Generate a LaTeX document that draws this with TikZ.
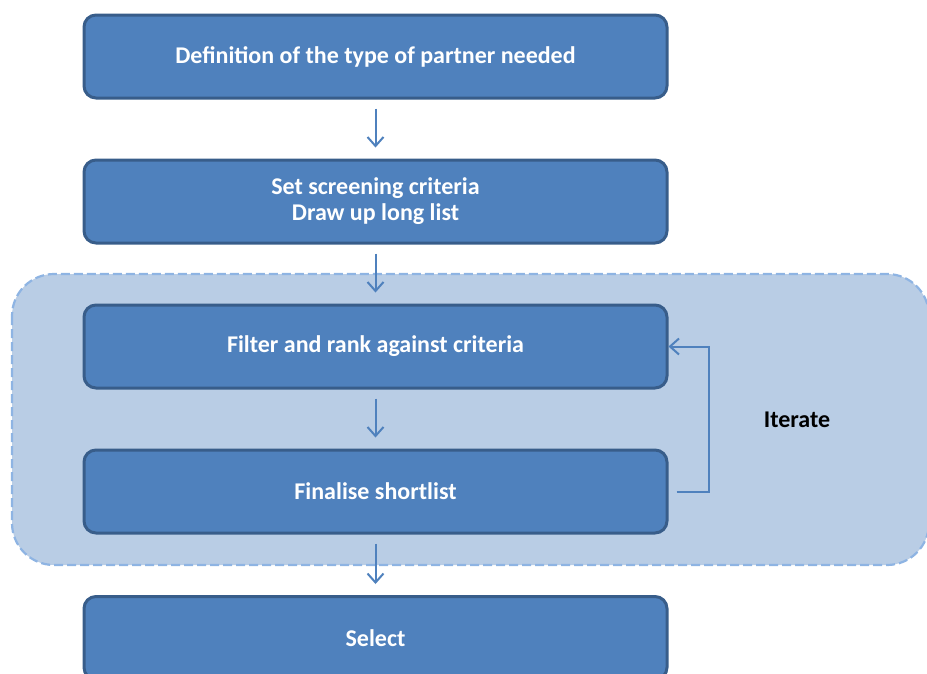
\documentclass[tikz,border=0pt]{standalone}
\usepackage{fontspec}
\setmainfont{Carlito}
\usetikzlibrary{arrows.meta}
\definecolor{boxfill}{HTML}{4F81BD}
\definecolor{boxline}{HTML}{385D8A}
\definecolor{regfill}{HTML}{B9CDE5}
\definecolor{regline}{HTML}{8EB4E3}
\tikzset{
  stepbox/.style={draw=boxline, line width=3pt, fill=boxfill, rounded corners=12pt,
    minimum width=583pt, minimum height=83pt, text=white, font=\fontsize{24}{26}\selectfont\bfseries,
    align=center, inner sep=0pt},
  arr/.style={draw=boxfill, line width=2pt, -{Straight Barb[length=9pt,width=16pt,line width=2pt]}},
}
\begin{document}
\begin{tikzpicture}[x=1pt,y=-1pt]
\useasboundingbox (0,0) rectangle (927,673);
\clip (0,0) rectangle (927,673);
\draw[fill=regfill, draw=regline, line width=2.2pt, dash pattern=on 9pt off 4pt, rounded corners=42pt]
  (12,274) rectangle (929,565);
\node[stepbox] (d) at (375.5,56.5) {Definition of the type of partner needed};
\node[stepbox] (s) at (375.5,201.5) {Set screening criteria\\Draw up long list};
\node[stepbox] (r) at (375.5,346.5) {Filter and rank against criteria};
\node[stepbox] (f) at (375.5,491.5) {Finalise shortlist};
\node[stepbox] (x) at (375.5,638) {Select};
\draw[arr, shorten <=9pt, shorten >=11pt] (d.south) -- (s.north);
\draw[arr, shorten <=9pt, shorten >=11pt] (s.south) -- (r.north);
\draw[arr, shorten <=9pt, shorten >=11pt] (r.south) -- (f.north);
\draw[arr, shorten <=9pt, shorten >=11pt] (f.south) -- (x.north);
\coordinate (lp) at ([xshift=8pt]f.east);
\draw[arr] (lp) -- ++(32,0) |- (r.east);
\node[font=\fontsize{24}{26}\selectfont\bfseries, text=black] (it) at (797,420) {Iterate};
\end{tikzpicture}
\end{document}
